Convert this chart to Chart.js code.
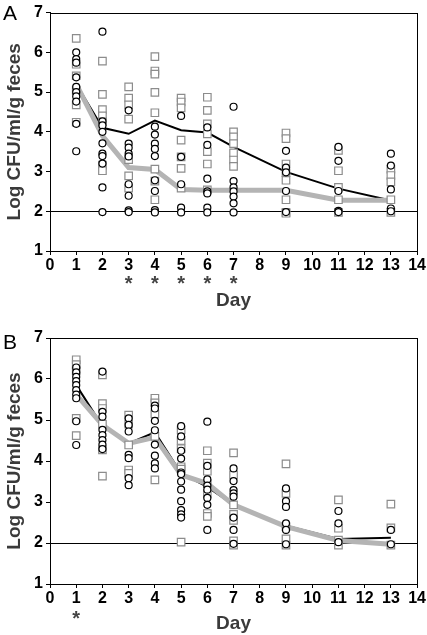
<!DOCTYPE html>
<html>
<head>
<meta charset="utf-8">
<script src="https://cdn.jsdelivr.net/npm/chart.js@4"></script>
<style>
    body { margin: 0; background: #fff; }
    #wrap { position: relative; width: 427px; height: 635px; overflow: hidden; }
    canvas { position: absolute; left: 0; }
    .panel-letter { position: absolute; left: 3px; font-family: "Liberation Sans", Arial, sans-serif; font-size: 21px; color: #000; line-height: 1; }
</style>
</head>
<body>
<div id="wrap">
    <canvas id="chartA" width="427" height="318" style="top:0"></canvas>
    <canvas id="chartB" width="427" height="317" style="top:318px"></canvas>
    <div class="panel-letter" style="top:2px">A</div>
    <div class="panel-letter" style="top:331px">B</div>
</div>
<script>
// Sampling days
const DAYS = [1, 2, 3, 4, 5, 6, 7, 9, 11, 13];
const X_TICKS = [0, 1, 2, 3, 4, 5, 6, 7, 8, 9, 10, 11, 12, 13, 14];
const Y_TICKS = [1, 2, 3, 4, 5, 6, 7];
const DETECTION_LIMIT = 2;

// Panel A - individual animals (circles = black group, squares = gray group)
const A_CIRCLES = [
    [6.0, 5.83, 5.74, 5.37, 5.13, 5.0, 4.89, 4.76, 4.2, 3.51],
    [6.52, 4.26, 4.16, 4.0, 3.71, 3.45, 3.39, 3.2, 2.6, 1.98],
    [4.54, 3.7, 3.6, 3.45, 3.38, 2.68, 2.39, 2.02, 1.98],
    [4.13, 3.93, 3.7, 3.57, 3.39, 2.78, 2.51, 2.03, 1.97],
    [4.4, 3.37, 2.68, 2.09, 1.97],
    [4.11, 3.67, 2.82, 2.5, 2.45, 2.09, 1.97],
    [4.63, 2.76, 2.6, 2.5, 2.37, 2.2, 1.97],
    [3.52, 3.1, 2.98, 2.51, 1.98],
    [3.62, 3.27, 2.51, 2.01, 1.98],
    [3.45, 3.15, 2.55, 2.07, 2.0]
];
const A_SQUARES = [
    [6.35, 5.7, 5.41, 5.05, 4.68, 4.24],
    [5.78, 4.94, 4.56, 4.4, 4.25, 3.16, 3.02],
    [5.13, 4.85, 4.68, 4.32, 3.3, 2.89, 2.58],
    [5.89, 5.53, 5.45, 4.99, 4.48, 3.06, 2.76, 2.29],
    [4.85, 4.75, 4.6, 3.79, 3.37, 3.08, 2.58],
    [4.87, 4.54, 4.2, 3.95, 3.5, 3.19, 2.54],
    [4.0, 3.87, 3.7, 3.47, 3.29, 3.13],
    [3.97, 3.83, 3.19, 2.97, 2.78, 2.29, 1.97, 1.95],
    [3.53, 3.02, 2.6, 2.29, 1.97],
    [3.06, 2.9, 2.74, 2.29, 1.97]
];
const A_MEAN_BLACK = [5.2, 4.1, 3.95, 4.28, 4.04, 3.98, 3.62, 2.99, 2.57, 2.27];
const A_MEAN_GRAY = [5.2, 3.9, 3.1, 3.05, 2.55, 2.53, 2.53, 2.53, 2.28, 2.28];
const A_STARS = [3, 4, 5, 6, 7];

// Panel B
const B_CIRCLES = [
    [6.28, 6.16, 6.05, 5.95, 5.85, 5.73, 5.62, 5.53, 4.97, 4.39],
    [6.18, 5.2, 5.08, 4.76, 4.63, 4.51, 4.4, 4.29],
    [5.04, 4.88, 4.72, 4.15, 4.07, 3.58, 3.41],
    [5.35, 5.28, 4.98, 4.75, 4.4, 4.13, 3.94, 3.82],
    [4.85, 4.6, 4.25, 4.06, 3.72, 3.68, 3.5, 3.3, 3.02, 2.8, 2.7, 2.62],
    [4.96, 3.88, 3.55, 3.4, 3.3, 3.1, 2.93, 2.32],
    [3.82, 3.51, 3.29, 3.21, 3.13, 2.62, 2.32, 1.98],
    [3.33, 3.02, 2.88, 2.48, 2.32, 1.97],
    [2.78, 2.48, 2.02],
    [2.32, 1.97]
];
const B_SQUARES = [
    [6.47, 6.35, 6.2, 5.04, 4.62],
    [6.1, 5.4, 5.28, 4.9, 4.27, 3.63],
    [5.12, 4.9, 4.39, 3.78, 3.7],
    [5.53, 5.42, 5.15, 4.6, 3.54],
    [4.76, 4.5, 4.3, 3.86, 3.8, 2.02],
    [4.25, 3.95, 3.75, 3.45, 3.2, 2.72, 2.65],
    [4.2, 3.66, 2.93, 2.7, 2.55, 2.05, 1.95],
    [3.93, 3.21, 2.4, 2.1, 1.95],
    [3.05, 2.36, 2.07, 1.95],
    [2.95, 2.37, 1.95]
];
const B_MEAN_BLACK = [5.85, 4.85, 4.43, 4.7, 3.7, 3.37, 2.93, 2.42, 2.1, 2.13];
const B_MEAN_GRAY = [5.62, 4.88, 4.43, 4.58, 3.66, 3.45, 2.93, 2.4, 2.06, 1.97];
const B_STARS = [1];

const FONT = '"Liberation Sans", Arial, sans-serif';

function toPoints(groups) {
    const pts = [];
    groups.forEach((vals, i) => {
        vals.forEach(v => pts.push({ x: DAYS[i], y: v }));
    });
    return pts;
}

function toLine(means) {
    return means.map((v, i) => ({ x: DAYS[i], y: v }));
}

// Frame, detection limit line and significance stars
const extrasPlugin = {
    id: 'extras',
    beforeDatasetsDraw(chart) {
        const ctx = chart.ctx;
        const area = chart.chartArea;
        const y = chart.scales.y.getPixelForValue(DETECTION_LIMIT);
        ctx.save();
        ctx.strokeStyle = '#000';
        ctx.lineWidth = 1;
        ctx.beginPath();
        ctx.moveTo(area.left, Math.round(y) + 0.5);
        ctx.lineTo(area.right, Math.round(y) + 0.5);
        ctx.stroke();
        ctx.restore();
    },
    afterDraw(chart, args, opts) {
        const ctx = chart.ctx;
        const area = chart.chartArea;
        ctx.save();
        ctx.strokeStyle = '#000';
        ctx.lineWidth = 1;
        ctx.strokeRect(Math.round(area.left) + 0.5, Math.round(area.top) + 0.5,
            Math.round(area.right - area.left), Math.round(area.bottom - area.top));
        ctx.fillStyle = '#444';
        ctx.font = 'bold 20px ' + FONT;
        ctx.textAlign = 'center';
        ctx.textBaseline = 'middle';
        (opts.stars || []).forEach(d => {
            ctx.fillText('*', chart.scales.x.getPixelForValue(d), area.bottom + opts.starOffset);
        });
        ctx.restore();
    }
};

function makeChart(id, circles, squares, meanBlack, meanGray, stars, layout) {
    const ctx = document.getElementById(id).getContext('2d');
    return new Chart(ctx, {
        type: 'scatter',
        data: {
            datasets: [
                {
                    data: toPoints(circles),
                    pointStyle: 'circle',
                    pointRadius: 3.5,
                    borderWidth: 1.2,
                    borderColor: '#000',
                    backgroundColor: '#fff',
                    order: 0
                },
                {
                    data: toPoints(squares),
                    pointStyle: 'rect',
                    pointRadius: 5.3,
                    borderWidth: 1.2,
                    borderColor: '#8c8c8c',
                    backgroundColor: '#fff',
                    order: 1
                },
                {
                    data: toLine(meanGray),
                    showLine: true,
                    pointRadius: 0,
                    borderColor: '#b4b4b4',
                    borderWidth: 5,
                    order: 2
                },
                {
                    data: toLine(meanBlack),
                    showLine: true,
                    pointRadius: 0,
                    borderColor: '#000',
                    borderWidth: 2,
                    order: 3
                }
            ]
        },
        options: {
            responsive: false,
            animation: false,
            layout: { padding: layout.padding },
            plugins: {
                legend: { display: false },
                tooltip: { enabled: false },
                extras: { stars: stars, starOffset: layout.starOffset }
            },
            scales: {
                x: {
                    type: 'linear',
                    min: 0,
                    max: 14,
                    afterBuildTicks: s => { s.ticks = X_TICKS.map(v => ({ value: v })); },
                    afterFit: s => { s.height = layout.xHeight; },
                    ticks: {
                        autoSkip: false,
                        maxRotation: 0,
                        padding: 1,
                        color: '#000',
                        font: { family: FONT, size: 16, weight: 'bold' }
                    },
                    grid: { drawOnChartArea: false, tickLength: 4, color: '#000' },
                    border: { color: '#000' },
                    title: {
                        display: true,
                        text: 'Day',
                        color: '#3a3a3a',
                        padding: { top: 0, bottom: layout.titlePad },
                        font: { family: FONT, size: 19, weight: 'bold' }
                    }
                },
                y: {
                    min: 1,
                    max: 7,
                    afterBuildTicks: s => { s.ticks = Y_TICKS.map(v => ({ value: v })); },
                    afterFit: s => { s.width = 50; },
                    ticks: {
                        padding: 3,
                        color: '#000',
                        font: { family: FONT, size: 16, weight: 'bold' }
                    },
                    grid: { drawOnChartArea: false, tickLength: 4, color: '#000' },
                    border: { color: '#000' },
                    title: {
                        display: true,
                        text: 'Log CFU/ml/g feces',
                        color: '#3a3a3a',
                        padding: 3,
                        font: { family: FONT, size: 19, weight: 'bold' }
                    }
                }
            }
        },
        plugins: [extrasPlugin]
    });
}

makeChart('chartA', A_CIRCLES, A_SQUARES, A_MEAN_BLACK, A_MEAN_GRAY, A_STARS,
    { padding: { top: 5, right: 9, bottom: 0, left: 0 }, xHeight: 67, starOffset: 33, titlePad: 6 });
makeChart('chartB', B_CIRCLES, B_SQUARES, B_MEAN_BLACK, B_MEAN_GRAY, B_STARS,
    { padding: { top: 20, right: 9, bottom: 0, left: 0 }, xHeight: 51, starOffset: 35, titlePad: 0 });
</script>
</body>
</html>
